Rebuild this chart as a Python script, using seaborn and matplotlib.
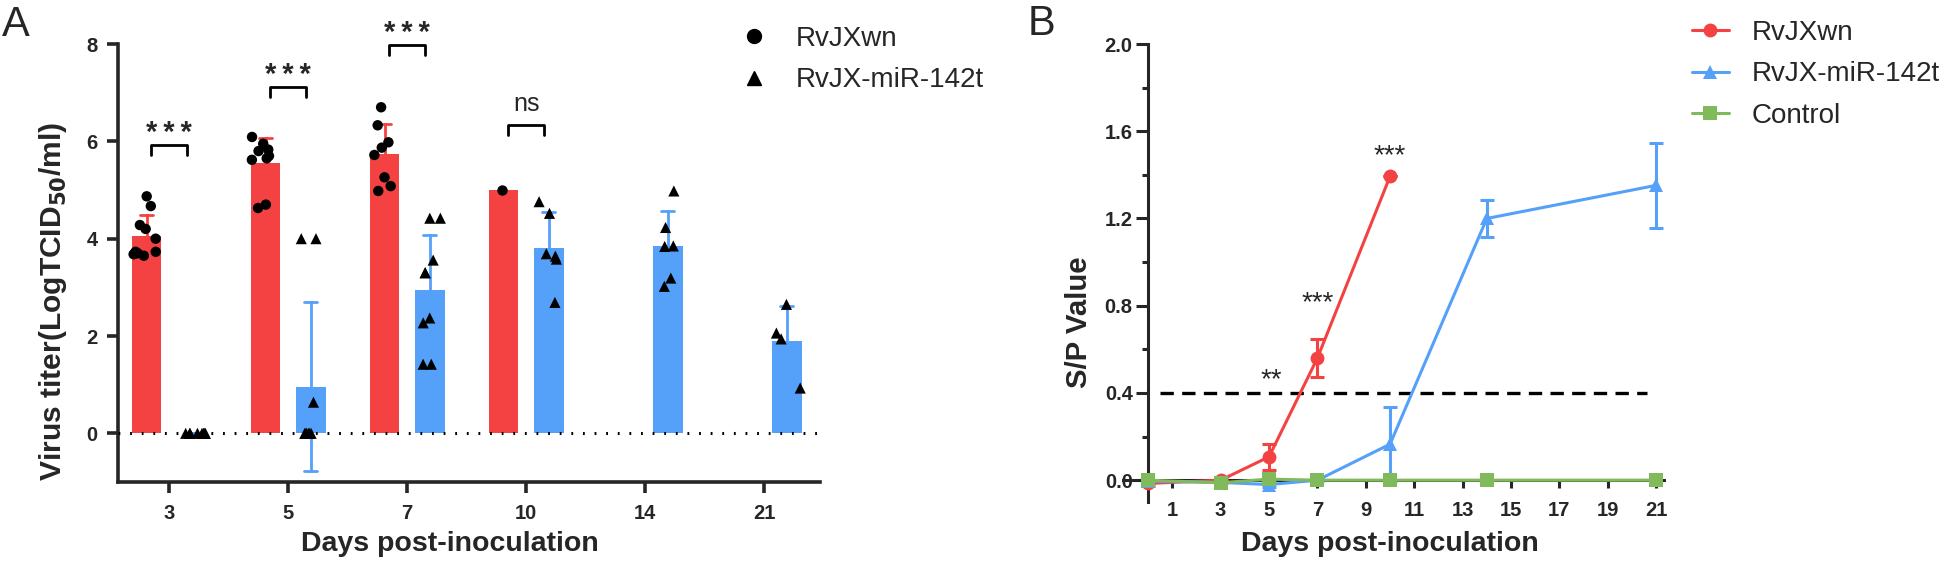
import numpy as np
import pandas as pd
import seaborn as sns
import matplotlib.pyplot as plt
from matplotlib.lines import Line2D

# colours
RED = '#F44242'
BLUE = '#55A0F9'
GREEN = '#80BA5A'

# ---- panel A: virus titer per animal (LogTCID50/ml) ----
days_a = ['3', '5', '7', '10', '14', '21']
groups = ['RvJXwn', 'RvJX-miR-142t']

wn_d3 = [4.87, 4.67, 4.28, 4.20, 4.00, 3.73, 3.73, 3.70, 3.68, 3.65]
wn_d5 = [6.09, 5.95, 5.83, 5.80, 5.70, 5.65, 5.62, 4.70, 4.63]
wn_d7 = [6.70, 6.33, 5.98, 5.87, 5.72, 5.26, 5.08, 4.98]
wn_d10 = [5.0]

mir_d3 = [0, 0, 0, 0, 0, 0, 0, 0]
mir_d5 = [4.0, 4.0, 0.64, 0, 0, 0, 0, 0, 0]
mir_d7 = [4.42, 4.42, 3.56, 3.30, 3.30, 2.37, 2.27, 1.42, 1.42]
mir_d10 = [4.76, 4.52, 3.69, 3.64, 3.58, 2.69]
mir_d14 = [4.98, 4.23, 3.85, 3.84, 3.19, 3.02]
mir_d21 = [2.65, 2.06, 1.94, 0.93]

# significance labels per day (A)
sig_days = ['3', '5', '7', '10']
sig_text = ['***', '***', '***', 'ns']
sig_height = [5.93, 7.12, 7.98, 6.34]

# ---- panel B: S/P values ----
days_red = [0, 3, 5, 7, 10]
red_mean = [-0.015, 0.0, 0.107, 0.56, 1.393]
red_sd = [0.01, 0.005, 0.06, 0.088, 0.0]

days_blue = [0, 3, 5, 7, 10, 14, 21]
blue_mean = [-0.005, -0.01, -0.02, 0.0, 0.165, 1.20, 1.352]
blue_sd = [0.005, 0.005, 0.01, 0.005, 0.17, 0.084, 0.195]

days_green = [0, 3, 5, 7, 10, 14, 21]
green_mean = [0.0, -0.012, 0.005, 0.0, 0.0, 0.0, 0.0]

cutoff = 0.4
sig_b_day = [5.1, 7.0, 10.0]
sig_b_y = [0.495, 0.85, 1.525]
sig_b_text = ['**', '***', '***']

# ---------------------------------------------------------------
sns.set_style('ticks')
plt.rcParams['font.family'] = ['Liberation Sans', 'DejaVu Sans']

rows = []
for g, lists in zip(groups, [
        {'3': wn_d3, '5': wn_d5, '7': wn_d7, '10': wn_d10},
        {'3': mir_d3, '5': mir_d5, '7': mir_d7, '10': mir_d10,
         '14': mir_d14, '21': mir_d21}]):
    for d, vals in lists.items():
        for v in vals:
            rows.append({'day': d, 'group': g, 'titer': v})
df_a = pd.DataFrame(rows)

fig = plt.figure(figsize=(19.44, 5.64), dpi=100)
axA = fig.add_axes([118 / 1944, 1 - 482 / 564, 702 / 1944, 438 / 564])
axB = fig.add_axes([1148 / 1944, 1 - 502 / 564, 515.5 / 1944, 458 / 564])

np.random.seed(3)
pal = {'RvJXwn': RED, 'RvJX-miR-142t': BLUE}
marks = {'RvJXwn': 'o', 'RvJX-miR-142t': '^'}
for g in groups:
    sub = df_a[df_a['group'] == g]
    sns.barplot(data=sub, x='day', y='titer', hue='group', order=days_a,
                hue_order=groups, palette=pal, errorbar='sd', capsize=0.22,
                width=0.76, gap=0.34, dodge=True, saturation=1,
                linewidth=0, legend=False, ax=axA,
                err_kws={'color': pal[g], 'linewidth': 2.0})
for g in groups:
    sub = df_a[df_a['group'] == g]
    sns.stripplot(data=sub, x='day', y='titer', hue='group', order=days_a,
                  hue_order=groups, palette={k: 'black' for k in groups},
                  dodge=True, jitter=0.22, marker=marks[g],
                  size=7.5 if g == 'RvJXwn' else 8, legend=False,
                  ax=axA, zorder=5, clip_on=False)

axA.axhline(0, color='black', lw=2.2, ls=(0, (0.6, 3.2)), zorder=4)

for d, t, h in zip(sig_days, sig_text, sig_height):
    i = days_a.index(d)
    axA.plot([i - 0.15, i - 0.15, i + 0.15, i + 0.15],
             [h - 0.21, h, h, h - 0.21], color='black', lw=2.0,
             clip_on=False)
    if t == 'ns':
        axA.text(i, h + 0.29, t, ha='center', va='baseline', fontsize=18,
                 clip_on=False)
    else:
        axA.text(i, h + 0.08, '\u2009'.join(t), ha='center', va='baseline',
                 fontsize=21, fontweight='bold', clip_on=False)

axA.set_xlim(-0.43, 5.47)
axA.set_ylim(-1, 8)
axA.set_yticks([0, 2, 4, 6, 8])
axA.set_xlabel('Days post-inoculation', fontsize=20.5, fontweight='bold')
ylab_a = axA.set_ylabel('Virus titer(LogTCID$_{\\mathbf{50}}$/ml)',
                        fontsize=20.5, fontweight='bold')
axA.xaxis.set_label_coords(0.473, -0.112)
axA.yaxis.set_label_coords(-0.0698, 0.413)
axA.tick_params(axis='both', width=2.6, length=8, labelsize=14.5)
axA.tick_params(axis='x', pad=7.5)
axA.tick_params(axis='y', pad=6.5)
for lab in axA.get_xticklabels() + axA.get_yticklabels():
    lab.set_fontweight('bold')
sns.despine(ax=axA)
for s in ['left', 'bottom']:
    axA.spines[s].set_linewidth(2.6)

handles_a = [Line2D([], [], ls='none', marker='o', color='black', ms=10),
             Line2D([], [], ls='none', marker='^', color='black', ms=10)]
axA.legend(handles_a, groups, loc='upper left', frameon=False, fontsize=20,
           bbox_to_anchor=(740 / 1944, 1 - 26 / 564),
           bbox_transform=fig.transFigure, handlelength=1.0,
           handletextpad=1.0, labelspacing=0.55, borderpad=0,
           borderaxespad=0)

# ---- panel B ----
df_b = pd.concat([
    pd.DataFrame({'day': days_red, 'sp': red_mean, 'group': 'RvJXwn'}),
    pd.DataFrame({'day': days_blue, 'sp': blue_mean, 'group': 'RvJX-miR-142t'}),
    pd.DataFrame({'day': days_green, 'sp': green_mean, 'group': 'Control'}),
])
pal_b = {'RvJXwn': RED, 'RvJX-miR-142t': BLUE, 'Control': GREEN}
mk_b = {'RvJXwn': 'o', 'RvJX-miR-142t': '^', 'Control': 's'}

axB.axhline(cutoff, xmin=0.5 / 21.3, xmax=20.6 / 21.3, color='black',
            lw=2.4, ls=(0, (4, 2.5)), zorder=1)

for g, dd, mm, ss in [('RvJXwn', days_red, red_mean, red_sd),
                      ('RvJX-miR-142t', days_blue, blue_mean, blue_sd)]:
    axB.errorbar(dd, mm, yerr=ss, fmt='none', ecolor=pal_b[g],
                 elinewidth=2.2, capsize=5, capthick=2.2, zorder=3,
                 clip_on=False)

sns.lineplot(data=df_b, x='day', y='sp', hue='group', style='group',
             hue_order=list(pal_b), style_order=list(pal_b), palette=pal_b,
             markers=mk_b, dashes=False, lw=2.2, markersize=10,
             markeredgewidth=0, legend=False, ax=axB, zorder=4,
             clip_on=False)

for x, y, t in zip(sig_b_day, sig_b_y, sig_b_text):
    axB.text(x, y - 0.07, t, ha='center', va='baseline', fontsize=20)

axB.set_xlim(0, 21.3)
axB.set_ylim(-0.1, 2.0)
axB.set_xticks(range(1, 22, 2))
axB.set_yticks(np.arange(0, 2.01, 0.4))
axB.set_yticks(np.arange(0.2, 2.0, 0.4), minor=True)
axB.yaxis.set_major_formatter(plt.FormatStrFormatter('%.1f'))
axB.spines['bottom'].set_position(('data', 0))
axB.spines['bottom'].set_bounds(-1.03, 21.3)
sns.despine(ax=axB)
for s in ['left', 'bottom']:
    axB.spines[s].set_linewidth(2.2)
axB.tick_params(axis='both', width=2.2, labelsize=14.5)
axB.tick_params(axis='x', length=6, pad=9)
axB.tick_params(axis='y', which='major', length=9, pad=2)
axB.tick_params(axis='y', which='minor', length=4.5, width=2.2)
for lab in axB.get_xticklabels() + axB.get_yticklabels():
    lab.set_fontweight('bold')
axB.set_xlabel('Days post-inoculation', fontsize=20.5, fontweight='bold')
ylab_b = axB.set_ylabel('S/P Value', fontsize=20.5, fontweight='bold')
axB.xaxis.set_label_coords(0.469, -0.063)
axB.yaxis.set_label_coords(-0.107, 0.392)

handles_b = [Line2D([], [], color=pal_b[g], lw=2.2, marker=mk_b[g], ms=10,
                    markeredgewidth=0) for g in pal_b]
axB.legend(handles_b, list(pal_b), loc='upper left', frameon=False,
           fontsize=20, bbox_to_anchor=(1692 / 1944, 1 - 20 / 564),
           bbox_transform=fig.transFigure, handlelength=1.33,
           handletextpad=0.83, labelspacing=0.55, borderpad=0,
           borderaxespad=0)

fig.text(2 / 1944, 1 - 36 / 564, 'A', fontsize=30, va='baseline')
fig.text(1028 / 1944, 1 - 35 / 564, 'B', fontsize=30, va='baseline')

# scale the y labels so their length matches the original figure
fig.canvas.draw()
for lab, target in [(ylab_a, 360), (ylab_b, 132)]:
    h = lab.get_window_extent().height
    lab.set_fontsize(lab.get_fontsize() * target / h)

fig.savefig('out.png', dpi=100)
